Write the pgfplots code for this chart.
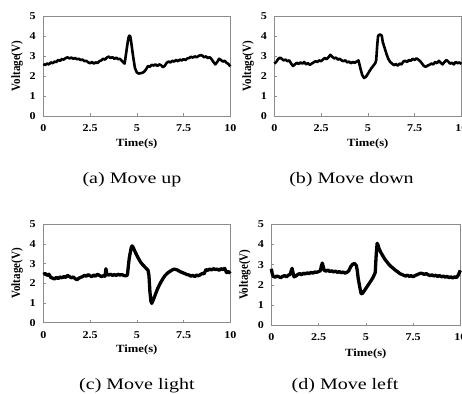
\documentclass[border=0pt]{standalone}
\usepackage{fontspec}
\setmainfont{Liberation Serif}
\usepackage{pgfplots}
\pgfplotsset{compat=1.18}
\pgfplotsset{
  panel/.style={
    scale only axis,
    xmin=0, xmax=10, ymin=0, ymax=5,
    xtick={0,2.5,5,7.5,10},
    xticklabels={0,2.5,5,7.5,10},
    ytick={0,1,2,3,4,5},
    xtick pos=lower, ytick pos=left,
    tick align=inside,
    major tick length=2.5pt,
    axis line style={draw=black!45, line width=0.8pt},
    every tick/.style={black!45, line width=0.6pt},
    /pgf/number format/assume math mode=true,
    tick label style={font=\fontsize{10.5}{12}\selectfont\bfseries, xscale=1.15},
    xticklabel style={yshift=-5pt},
    yticklabel style={xshift=-3pt},
    xlabel={Time(s)}, ylabel={Voltage(V)},
    label style={font=\fontsize{11}{12}\selectfont\bfseries},
    xlabel style={at={(axis description cs:0.5,-0.28)}, anchor=center, xscale=1.15},
    ylabel style={at={(axis description cs:-0.14,0.5)}, anchor=center, yscale=1.15},
    clip=false,
  },
}
\tikzset{
  sig/.style={black, line width=2.6pt, line join=round},
  capnode/.style={anchor=base, font=\fontsize{16}{18}\selectfont, xscale=1.25},
}
\begin{document}
\begin{tikzpicture}
\useasboundingbox (0pt,0pt) rectangle (462pt,393pt);
\clip (0pt,0pt) rectangle (462pt,393pt);
% (a)
\begin{axis}[panel, at={(43.3pt,277pt)}, anchor=south west, width=187pt, height=100pt]
\addplot[sig, mark=none] coordinates {
(0.0,2.60)(0.1,2.55)(0.2,2.62)(0.3,2.58)(0.4,2.68)(0.5,2.64)(0.6,2.72)(0.7,2.70)(0.8,2.80)(0.9,2.76)
(1.0,2.85)(1.1,2.82)(1.2,2.90)(1.3,2.93)(1.4,2.88)(1.5,2.92)(1.6,2.86)(1.7,2.90)(1.8,2.84)(1.9,2.86)
(2.0,2.80)(2.1,2.82)(2.2,2.74)(2.3,2.76)(2.4,2.68)(2.5,2.64)(2.6,2.70)(2.7,2.62)(2.8,2.68)(2.9,2.65)
(3.0,2.74)(3.1,2.78)(3.2,2.86)(3.3,2.82)(3.4,2.92)(3.5,2.97)(3.6,2.90)(3.7,2.94)(3.8,2.86)(3.9,2.92)
(4.0,2.84)(4.1,2.86)(4.2,2.76)(4.3,2.66)(4.35,2.62)(4.4,2.95)(4.5,3.60)(4.55,3.90)(4.6,4.02)(4.65,3.98)
(4.7,3.70)(4.8,3.00)(4.9,2.40)(5.0,2.18)(5.1,2.12)(5.2,2.14)(5.3,2.16)(5.4,2.22)(5.5,2.34)(5.6,2.50)
(5.7,2.46)(5.8,2.56)(5.9,2.52)(6.0,2.58)(6.1,2.50)(6.2,2.58)(6.3,2.54)(6.4,2.44)(6.5,2.52)(6.6,2.66)
(6.7,2.72)(6.8,2.68)(6.9,2.76)(7.0,2.72)(7.1,2.80)(7.2,2.74)(7.3,2.82)(7.4,2.78)(7.5,2.84)(7.6,2.80)
(7.7,2.88)(7.8,2.90)(7.9,2.96)(8.0,2.92)(8.1,2.98)(8.2,2.94)(8.3,3.00)(8.4,3.04)(8.5,3.02)(8.6,2.94)
(8.7,2.98)(8.8,2.90)(8.9,2.94)(9.0,2.84)(9.1,2.70)(9.2,2.58)(9.3,2.70)(9.4,2.86)(9.5,2.80)(9.6,2.72)
(9.7,2.76)(9.8,2.66)(9.9,2.60)(10.0,2.48)};
\end{axis}
% (b)
\begin{axis}[panel, at={(274.3pt,277pt)}, anchor=south west, width=187pt, height=100pt]
\addplot[sig, mark=none] coordinates {
(0.0,2.62)(0.1,2.70)(0.2,2.84)(0.3,2.92)(0.4,2.86)(0.5,2.78)(0.6,2.82)(0.7,2.74)(0.8,2.78)(0.9,2.62)
(1.0,2.50)(1.1,2.58)(1.2,2.66)(1.3,2.60)(1.4,2.68)(1.5,2.62)(1.6,2.70)(1.7,2.58)(1.8,2.64)(1.9,2.56)
(2.0,2.62)(2.1,2.68)(2.2,2.74)(2.3,2.70)(2.4,2.78)(2.5,2.74)(2.6,2.82)(2.7,2.90)(2.8,2.84)(2.9,2.94)
(3.0,3.06)(3.1,2.96)(3.2,2.88)(3.3,2.92)(3.4,2.82)(3.5,2.86)(3.6,2.78)(3.7,2.74)(3.8,2.78)(3.9,2.68)
(4.0,2.72)(4.1,2.64)(4.2,2.70)(4.3,2.66)(4.4,2.72)(4.5,2.78)(4.55,2.60)(4.6,2.40)(4.7,2.05)(4.8,1.90)
(4.9,1.96)(5.0,2.10)(5.1,2.26)(5.2,2.40)(5.3,2.52)(5.4,2.64)(5.45,2.80)(5.5,3.50)(5.55,4.00)(5.6,4.06)
(5.7,4.06)(5.75,4.00)(5.8,3.70)(5.9,3.40)(6.0,3.10)(6.1,2.85)(6.2,2.70)(6.3,2.62)(6.4,2.54)(6.5,2.60)
(6.6,2.52)(6.7,2.62)(6.8,2.58)(6.9,2.72)(7.0,2.76)(7.1,2.70)(7.2,2.80)(7.3,2.76)(7.4,2.86)(7.5,2.80)
(7.6,2.88)(7.7,2.82)(7.8,2.74)(7.9,2.62)(8.0,2.50)(8.1,2.46)(8.2,2.52)(8.3,2.56)(8.4,2.62)(8.5,2.58)
(8.6,2.70)(8.7,2.64)(8.8,2.76)(8.9,2.66)(9.0,2.58)(9.1,2.70)(9.2,2.80)(9.3,2.72)(9.4,2.62)(9.5,2.66)
(9.6,2.58)(9.7,2.70)(9.8,2.64)(9.9,2.68)(10.0,2.60)};
\end{axis}
% (c)
\begin{axis}[panel, at={(43.3pt,70.3pt)}, anchor=south west, width=187pt, height=98.5pt]
\addplot[sig, mark=none, line width=3.3pt] coordinates {
(0.0,2.45)(0.1,2.50)(0.2,2.40)(0.3,2.46)(0.4,2.30)(0.5,2.26)(0.6,2.22)(0.7,2.30)(0.8,2.24)(0.9,2.32)
(1.0,2.28)(1.1,2.34)(1.2,2.30)(1.3,2.40)(1.4,2.34)(1.5,2.28)(1.6,2.32)(1.7,2.24)(1.8,2.18)(1.9,2.26)
(2.0,2.30)(2.1,2.34)(2.2,2.40)(2.3,2.36)(2.4,2.44)(2.5,2.38)(2.6,2.34)(2.7,2.42)(2.8,2.36)(2.9,2.46)
(3.0,2.40)(3.1,2.34)(3.2,2.38)(3.3,2.36)(3.35,2.74)(3.4,2.44)(3.5,2.42)(3.6,2.46)(3.7,2.40)(3.8,2.44)
(3.9,2.40)(4.0,2.46)(4.1,2.42)(4.2,2.44)(4.3,2.40)(4.4,2.38)(4.5,2.42)(4.55,2.90)(4.6,3.30)(4.7,3.80)
(4.75,3.90)(4.8,3.84)(4.9,3.62)(5.0,3.42)(5.1,3.24)(5.2,3.08)(5.3,2.96)(5.4,2.86)(5.5,2.76)(5.6,2.66)
(5.65,2.40)(5.7,1.60)(5.75,1.10)(5.8,0.98)(5.9,1.20)(6.0,1.45)(6.1,1.70)(6.2,1.90)(6.3,2.08)(6.4,2.24)
(6.5,2.38)(6.6,2.48)(6.7,2.56)(6.8,2.62)(6.9,2.68)(7.0,2.72)(7.1,2.70)(7.2,2.66)(7.3,2.60)(7.4,2.56)
(7.5,2.52)(7.6,2.48)(7.7,2.44)(7.8,2.42)(7.9,2.36)(8.0,2.40)(8.1,2.34)(8.2,2.42)(8.3,2.38)(8.4,2.44)
(8.5,2.50)(8.6,2.48)(8.7,2.70)(8.8,2.66)(8.9,2.72)(9.0,2.68)(9.1,2.74)(9.2,2.70)(9.3,2.72)(9.4,2.66)
(9.5,2.74)(9.6,2.70)(9.7,2.76)(9.8,2.54)(9.9,2.60)(10.0,2.50)};
\end{axis}
% (d)
\begin{axis}[panel, at={(271.3pt,67.7pt)}, anchor=south west, width=189pt, height=101pt]
\addplot[sig, mark=none, line width=3.3pt] coordinates {
(0.0,2.80)(0.05,2.55)(0.1,2.42)(0.2,2.38)(0.3,2.44)(0.4,2.40)(0.5,2.36)(0.6,2.42)(0.7,2.46)(0.8,2.40)
(0.9,2.48)(1.0,2.52)(1.05,2.70)(1.1,2.82)(1.15,2.60)(1.2,2.40)(1.3,2.44)(1.4,2.52)(1.5,2.56)(1.6,2.50)
(1.7,2.58)(1.8,2.54)(1.9,2.60)(2.0,2.56)(2.1,2.62)(2.2,2.58)(2.3,2.64)(2.4,2.62)(2.5,2.66)(2.6,2.70)
(2.65,2.95)(2.7,3.08)(2.75,2.90)(2.8,2.72)(2.9,2.68)(3.0,2.74)(3.1,2.66)(3.2,2.70)(3.3,2.64)(3.4,2.68)
(3.5,2.62)(3.6,2.66)(3.7,2.60)(3.8,2.64)(3.9,2.58)(4.0,2.62)(4.1,2.70)(4.2,2.90)(4.3,3.02)(4.4,3.06)
(4.5,2.96)(4.55,2.70)(4.6,2.30)(4.7,1.80)(4.75,1.58)(4.8,1.56)(4.9,1.68)(5.0,1.82)(5.1,1.96)(5.2,2.10)
(5.3,2.24)(5.4,2.40)(5.5,2.62)(5.55,3.50)(5.6,4.06)(5.65,3.96)(5.7,3.80)(5.8,3.60)(5.9,3.44)(6.0,3.28)
(6.1,3.16)(6.2,3.04)(6.3,2.94)(6.4,2.86)(6.5,2.78)(6.6,2.70)(6.7,2.64)(6.8,2.56)(6.9,2.52)(7.0,2.48)
(7.1,2.44)(7.2,2.48)(7.3,2.42)(7.4,2.46)(7.5,2.40)(7.6,2.46)(7.7,2.50)(7.8,2.54)(7.9,2.58)(8.0,2.56)
(8.1,2.52)(8.2,2.56)(8.3,2.50)(8.4,2.46)(8.5,2.50)(8.6,2.44)(8.7,2.48)(8.8,2.42)(8.9,2.46)(9.0,2.40)
(9.1,2.44)(9.2,2.38)(9.3,2.42)(9.4,2.36)(9.5,2.40)(9.6,2.34)(9.7,2.40)(9.8,2.36)(9.9,2.50)(10.0,2.72)};
\end{axis}
\node[capnode] at (132pt,209pt) {(a) Move up};
\node[capnode] at (351.5pt,209pt) {(b) Move down};
\node[capnode] at (137pt,4pt) {(c) Move light};
\node[capnode] at (345pt,4pt) {(d) Move left};
\end{tikzpicture}
\end{document}
